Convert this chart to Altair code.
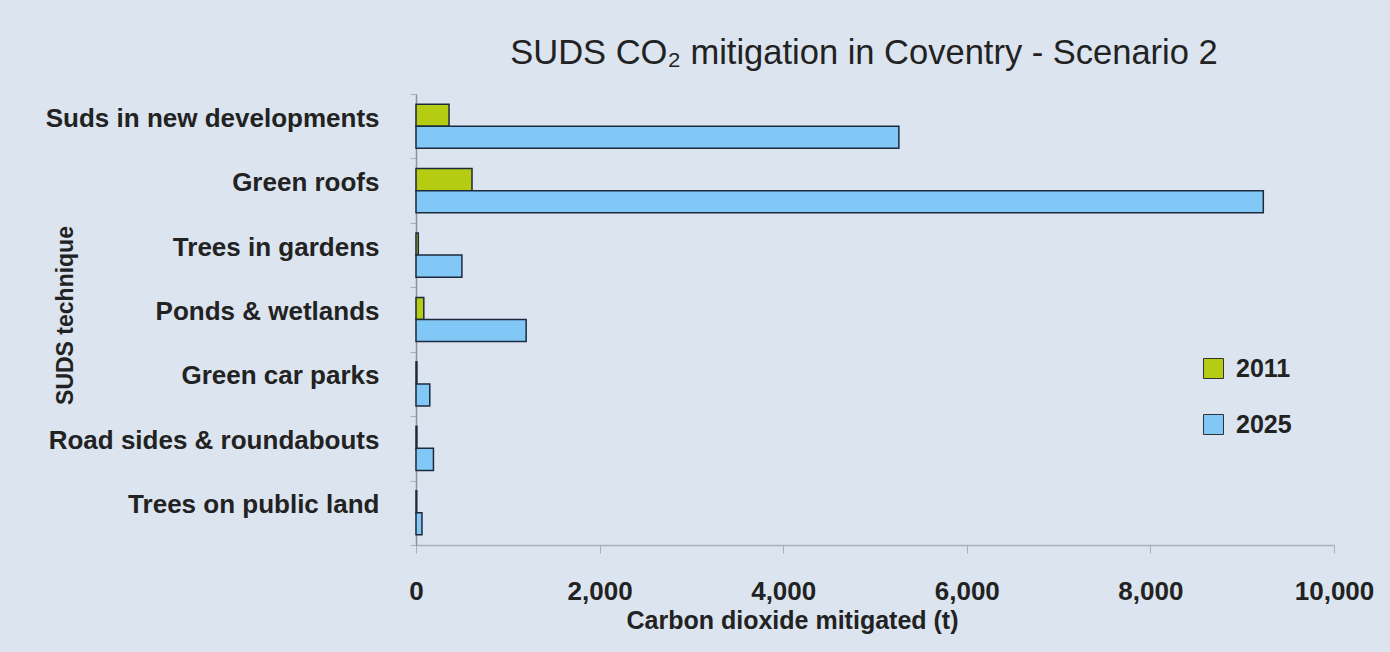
import altair as alt
import pandas as pd

techniques = [
    "Suds in new developments",
    "Green roofs",
    "Trees in gardens",
    "Ponds & wetlands",
    "Green car parks",
    "Road sides & roundabouts",
    "Trees on public land",
]
values_2011 = [360, 610, 25, 85, 10, 10, 8]
values_2025 = [5260, 9230, 500, 1200, 150, 190, 65]
years = ["2011", "2025"]

rows = []
for t, a, b in zip(techniques, values_2011, values_2025):
    rows.append({"Technique": t, "Year": "2011", "CO2": a})
    rows.append({"Technique": t, "Year": "2025", "CO2": b})
df = pd.DataFrame(rows)

FONT = "Liberation Sans"
BG = "#dbe4ef"

bars = alt.Chart(df).mark_bar(stroke="#1c2a3e", strokeWidth=1.5).encode(
    x=alt.X(
        "CO2:Q",
        scale=alt.Scale(domain=[0, 10000], nice=False),
        axis=alt.Axis(
            title="Carbon dioxide mitigated (t)",
            values=[0, 2000, 4000, 6000, 8000, 10000],
            format=",.0f",
            grid=False,
            domainColor="#a9b1bb",
            domainWidth=1.5,
            tickColor="#a9b1bb",
            tickSize=8,
            labelFont=FONT,
            labelFontSize=26,
            labelFontWeight="bold",
            labelColor="#222222",
            labelPadding=25,
            labelFlush=False,
            titleFont=FONT,
            titleFontSize=25,
            titleFontWeight="bold",
            titleColor="#222222",
            titleX=376,
            titlePadding=4,
        ),
    ),
    y=alt.Y(
        "Technique:N",
        sort=techniques,
        scale=alt.Scale(paddingInner=0, paddingOuter=0),
        axis=alt.Axis(
            title="SUDS technique",
            tickBand="extent",
            domainColor="#8a929c",
            domainWidth=1.5,
            tickColor="#a9b1bb",
            tickSize=6,
            labelFont=FONT,
            labelFontSize=26,
            labelFontWeight="bold",
            labelColor="#222222",
            labelPadding=31,
            labelOffset=-8,
            labelLimit=500,
            titleFont=FONT,
            titleFontSize=23,
            titleFontWeight="bold",
            titleColor="#222222",
            titleAngle=-90,
            titleX=-351,
            titleY=221,
            titleAlign="center",
            titleBaseline="middle",
        ),
    ),
    yOffset=alt.YOffset(
        "Year:N",
        sort=years,
        scale=alt.Scale(paddingInner=0, paddingOuter=0.46),
    ),
    fill=alt.Fill(
        "Year:N",
        scale=alt.Scale(domain=years, range=["#b5cc12", "#82c8f6"]),
        legend=alt.Legend(
            title=None,
            orient="none",
            legendX=785,
            legendY=262,
            symbolType="square",
            symbolSize=400,
            symbolStrokeColor="#333333",
            symbolStrokeWidth=1,
            labelFont=FONT,
            labelFontSize=25,
            labelFontWeight="bold",
            labelColor="#222222",
            labelOffset=10,
            rowPadding=30,
        ),
    ),
)

chart = bars.properties(
    width=918,
    height=451,
    autosize=alt.AutoSizeParams(type="none"),
    padding={"left": 416, "top": 94, "right": 56, "bottom": 107},
    background=BG,
    title=alt.Title(
        "SUDS CO\u2082 mitigation in Coventry - Scenario 2",
        font=FONT,
        fontSize=34.5,
        fontWeight="normal",
        color="#222222",
        anchor="middle",
        dx=-11,
        offset=10,
    ),
).configure_view(stroke=None)

chart.save("out.html", embed_options={"renderer": "svg", "actions": False})
